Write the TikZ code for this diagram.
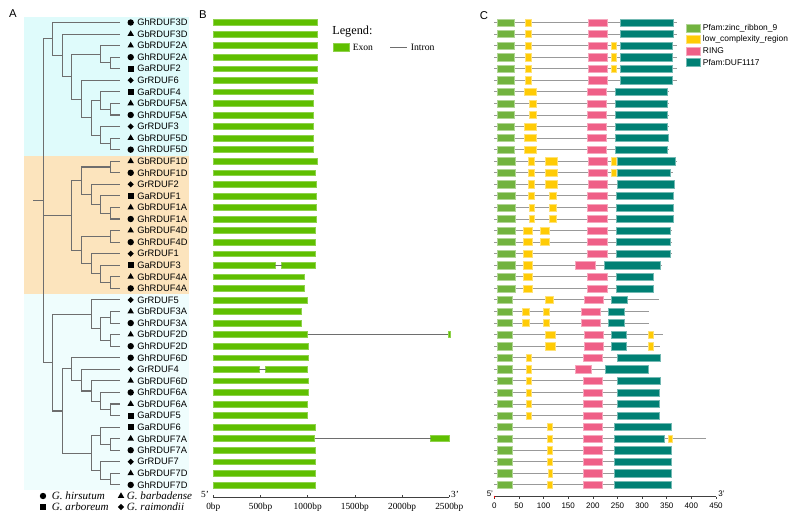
\documentclass[tikz,border=0pt]{standalone}
\usepackage{fontspec}
\setmainfont{Liberation Serif}
\setsansfont{Liberation Sans}
\usetikzlibrary{calc,shapes.geometric}
\definecolor{cladeA}{HTML}{DFFBFB}
\definecolor{cladeB}{HTML}{FCE4BD}
\definecolor{cladeC}{HTML}{EFFDFD}
\definecolor{twig}{HTML}{6E6E6E}
\definecolor{exongreen}{HTML}{5FBF00}
\definecolor{zinc}{HTML}{72B33F}
\definecolor{lcr}{HTML}{FFCB05}
\definecolor{ring}{HTML}{EF5F87}
\definecolor{duf}{HTML}{008074}
\tikzset{branch/.style={draw=twig,line width=0.8pt},leaf/.style={anchor=west,inner sep=0pt,font=\sffamily\fontsize{7}{8}\selectfont},panel/.style={inner sep=0pt,font=\sffamily\fontsize{8.5}{9}\selectfont},
sphir/.style={circle,fill=black,inner sep=0pt,minimum size=4.8pt},spbar/.style={regular polygon,regular polygon sides=3,fill=black,inner sep=0pt,minimum size=5.6pt},
sparb/.style={rectangle,fill=black,inner sep=0pt,minimum size=4.5pt},sprai/.style={diamond,fill=black,inner sep=0pt,minimum size=4.8pt},
species/.style={anchor=west,inner sep=0pt,font=\itshape\fontsize{8.3}{9}\selectfont},
exon/.style={fill=exongreen,draw=exongreen!70,line width=0.4pt},intron/.style={draw=twig,line width=0.6pt},
scaleline/.style={draw=black!75,line width=0.5pt},bptick/.style={inner sep=0pt,font=\fontsize{7}{8}\selectfont},aatick/.style={inner sep=0pt,font=\sffamily\fontsize{6}{7}\selectfont},
backbone/.style={draw=black!40,line width=0.7pt},dom/.style={line width=0.4pt},key/.style={anchor=west,inner sep=0pt,font=\sffamily\fontsize{6.3}{7}\selectfont}}
% clade: name, height, child, child
\newcommand\clade[4]{\path let \p1=($(#3)!0.5!(#4)$), \p2=({120-9.62*#2},0) in coordinate (#1) at (\x2,\y1);
\draw[branch] (#1) |- (#3) (#1) |- (#4);}
\begin{document}
\begin{tikzpicture}[x=0.75pt,y=-0.75pt,declare function={rowy(\n)=22.5+11.56*(\n-1);}]
\useasboundingbox (0,0) rectangle (792,521);
% A: tree
\fill[cladeA] (24,17) rectangle (189,155.5);
\fill[cladeB] (24,155.5) rectangle (189,294);
\fill[cladeC] (24,294) rectangle (189,490);
\node[panel] (pa) at (13,14) {A};
\node[panel] (pb) at (203,15) {B};
\node[panel] (pc) at (484,16) {C};
\foreach \gene/\sp [count=\i] in {GhRDUF3D/sphir,GbRDUF3D/spbar,GbRDUF2A/spbar,GhRDUF2A/sphir,GaRDUF2/sparb,GrRDUF6/sprai,GaRDUF4/sparb,GbRDUF5A/spbar,GhRDUF5A/sphir,GrRDUF3/sprai,GbRDUF5D/spbar,GhRDUF5D/sphir,GbRDUF1D/spbar,GhRDUF1D/sphir,GrRDUF2/sprai,GaRDUF1/sparb,GbRDUF1A/spbar,GhRDUF1A/sphir,GbRDUF4D/spbar,GhRDUF4D/sphir,GrRDUF1/sprai,GaRDUF3/sparb,GbRDUF4A/spbar,GhRDUF4A/sphir,GrRDUF5/sprai,GbRDUF3A/spbar,GhRDUF3A/sphir,GbRDUF2D/spbar,GhRDUF2D/sphir,GhRDUF6D/sphir,GrRDUF4/sprai,GbRDUF6D/spbar,GhRDUF6A/sphir,GbRDUF6A/spbar,GaRDUF5/sparb,GaRDUF6/sparb,GbRDUF7A/spbar,GhRDUF7A/sphir,GrRDUF7/sprai,GbRDUF7D/spbar,GhRDUF7D/sphir}{
\coordinate (t\i) at (120,{rowy(\i)});
\node[\sp] (s\i) at (130.7,{rowy(\i)}) {};
\node[leaf] (g\i) at (137,{rowy(\i)}) {\gene};}
\clade{a1}{1}{t4}{t5}\clade{a2}{2}{t3}{a1}\clade{a3}{1}{t8}{t9}\clade{a4}{2}{t7}{a3}
\clade{a5}{1}{t11}{t12}\clade{a6}{2}{t10}{a5}\clade{a7}{3}{a4}{a6}\clade{a8}{4}{t6}{a7}
\clade{a9}{5}{a2}{a8}\clade{a10}{6}{t2}{a9}\clade{a11}{7}{t1}{a10}
\clade{b1}{1}{t13}{t14}\clade{b2}{1}{t17}{t18}\clade{b3}{2}{t16}{b2}\clade{b4}{3}{t15}{b3}
\clade{b5}{4}{b1}{b4}\clade{b6}{1}{t19}{t20}\clade{b7}{1}{t23}{t24}\clade{b8}{2}{t22}{b7}
\clade{b9}{3}{t21}{b8}\clade{b10}{4}{b6}{b9}\clade{b11}{5}{b5}{b10}
\clade{d1}{1}{t26}{t27}\clade{d2}{1}{t28}{t29}\clade{d3}{2}{d1}{d2}\clade{d4}{3}{t25}{d3}
\clade{d5}{1}{t34}{t35}\clade{d6}{2}{t33}{d5}\clade{d7}{3}{t32}{d6}\clade{d8}{4}{t31}{d7}
\clade{d9}{5}{t30}{d8}\clade{d10}{1}{t37}{t38}\clade{d11}{2}{t36}{d10}\clade{d12}{1}{t40}{t41}
\clade{d13}{2}{t39}{d12}\clade{d14}{3}{d11}{d13}\clade{d15}{6}{d9}{d14}\clade{d16}{7}{d4}{d15}
\clade{root}{8}{a11}{d16}
\draw[branch] (root) |- (b11);
\path (root) ++(-9.62,0) coordinate (stem);
\draw[branch] (stem) -- (root);
% species key
\node[sphir] (kh) at (43,496) {};\node[species] (kht) at (51.7,496) {G. hirsutum};
\node[spbar] (kb) at (121,496) {};\node[species] (kbt) at (126.7,496) {G. barbadense};
\node[sparb] (ka) at (43,507) {};\node[species] (kat) at (51.7,507) {G. arboreum};
\node[sprai] (kr) at (121,507) {};\node[species] (krt) at (126.7,507) {G. raimondii};
% B: gene structure
\node[anchor=west,inner sep=0pt,font=\fontsize{9.2}{10}\selectfont] (lg) at (332,31.7) {Legend:};
\filldraw[exon] (333,43.5) rectangle (349,51);
\node[anchor=west,inner sep=0pt,font=\fontsize{7.2}{8}\selectfont] (lx) at (352.5,47.3) {Exon};
\coordinate (ia) at (390,47.3);\coordinate (ib) at (406.7,47.3);
\draw[intron] (ia) -- (ib);
\node[anchor=west,inner sep=0pt,font=\fontsize{7.3}{8}\selectfont] (li) at (410.5,47.3) {Intron};
\begin{scope}[xshift=159.98pt,x=0.0708pt]
\foreach \i/\len in {1/1100,2/1100,3/1100,4/1100,5/1100,6/1100,7/1060,8/1060,9/1060,10/1060,11/1060,12/1055,13/1100,14/1075,15/1095,16/1090,17/1090,18/1090,19/1075,20/1075,21/1075,23/960,24/960,25/990,26/935,27/935,29/1005,30/1005,32/1005,33/1003,34/1000,35/1000,36/1080,38/1080,39/1082,40/1082,41/1082}
\filldraw[exon] (0,{rowy(\i)-2.9}) rectangle (\len,{rowy(\i)+2.9});
\foreach \i/\a/\b/\c in {22/655/725/1085,28/1000/2490/2506,31/485/555/1000,37/1073/2303/2500}{
\filldraw[exon] (0,{rowy(\i)-2.9}) rectangle (\a,{rowy(\i)+2.9});
\filldraw[exon] (\b,{rowy(\i)-2.9}) rectangle (\c,{rowy(\i)+2.9});
\draw[intron] (\a,{rowy(\i)}) -- (\b,{rowy(\i)});}
\draw[scaleline] (0,497) -- (2500,497);
\foreach \t in {0,500,...,2500}{\draw[scaleline] (\t,497) -- (\t,495);\node[bptick] (bt\t) at (\t,507) {\t bp};}
\node[bptick] (b5) at (-88,494) {5'};
\node[bptick] (b3) at (2560,494) {3'};
\end{scope}
% C: domains
\begin{scope}[xshift=370.73pt,x=0.3695pt]
\foreach \i/\len/\doms in {1/370/{zinc/5/41,lcr/62/75,ring/190/230,duf/255/363},2/370/{zinc/5/41,lcr/62/75,ring/190/230,duf/255/363},
3/370/{zinc/5/41,lcr/62/75,ring/190/230,lcr/237/248,duf/255/361},4/370/{zinc/5/41,lcr/62/75,ring/190/230,lcr/237/248,duf/255/361},
5/370/{zinc/5/41,lcr/62/75,ring/190/230,lcr/237/248,duf/255/361},6/370/{zinc/5/41,lcr/62/75,ring/190/230,duf/255/361},
7/355/{zinc/5/41,lcr/60/86,ring/188/228,duf/245/351},8/355/{zinc/5/41,lcr/70/85,ring/188/228,duf/245/351},
9/355/{zinc/5/41,lcr/70/85,ring/188/228,duf/245/351},10/355/{zinc/5/41,lcr/60/86,ring/188/228,duf/245/351},
11/355/{zinc/5/41,lcr/60/86,ring/188/228,duf/245/353},12/355/{zinc/5/41,lcr/60/86,ring/188/228,duf/245/351},
13/370/{zinc/5/42,lcr/69/81,lcr/103/127,ring/191/230,lcr/237/248,duf/250/367},14/362/{zinc/5/42,lcr/69/81,lcr/103/127,ring/191/230,lcr/237/248,duf/250/357},
15/367/{zinc/5/42,lcr/69/81,lcr/103/127,ring/191/230,duf/250/366},16/365/{zinc/5/42,lcr/69/81,lcr/112/125,ring/189/229,duf/247/363},
17/365/{zinc/5/42,lcr/70/81,lcr/112/125,ring/189/229,duf/247/363},18/365/{zinc/5/42,lcr/70/81,lcr/112/125,ring/189/229,duf/247/363},
19/361/{zinc/5/42,lcr/59/77,lcr/94/112,ring/189/229,duf/247/358},20/361/{zinc/5/42,lcr/59/77,lcr/94/112,ring/189/229,duf/247/358},
21/361/{zinc/5/42,lcr/59/77,ring/189/229,duf/247/358},22/340/{zinc/5/42,lcr/59/77,ring/165/204,duf/223/337},
23/322/{zinc/5/42,lcr/59/77,ring/189/229,duf/247/322},24/322/{zinc/5/42,lcr/59/77,ring/189/229,duf/247/322},
25/334/{zinc/5/36,lcr/104/119,ring/182/222,duf/237/269},26/313/{zinc/5/36,lcr/56/70,lcr/99/112,ring/176/215,duf/231/263},
27/313/{zinc/5/36,lcr/56/70,lcr/99/112,ring/176/215,duf/231/263},28/342/{zinc/5/36,lcr/104/123,ring/182/222,duf/237/267,lcr/312/323},
29/336/{zinc/5/36,lcr/104/123,ring/182/222,duf/237/267,lcr/312/323},30/336/{zinc/5/36,lcr/64/74,ring/180/220,duf/249/336},
31/313/{zinc/5/36,lcr/64/74,ring/164/196,duf/225/313},32/336/{zinc/5/36,lcr/64/74,ring/180/220,duf/249/336},
33/336/{zinc/5/36,lcr/64/74,ring/180/220,duf/249/335},34/336/{zinc/5/36,lcr/64/74,ring/180/220,duf/249/335},
35/336/{zinc/5/36,lcr/64/74,ring/180/220,duf/249/335},36/361/{zinc/5/36,lcr/107/117,ring/180/220,duf/244/359},
37/429/{zinc/5/36,lcr/107/117,ring/180/220,duf/244/344,lcr/353/361},38/361/{zinc/5/36,lcr/107/117,ring/180/220,duf/244/360},
39/361/{zinc/5/36,lcr/107/117,ring/180/220,duf/244/360},40/361/{zinc/5/36,lcr/110/117,ring/180/220,duf/244/360},
41/361/{zinc/5/36,lcr/107/117,ring/180/220,duf/244/360}}{
\draw[backbone] (0,{rowy(\i)}) -- (\len,{rowy(\i)});
\foreach \t/\s/\e in \doms \filldraw[dom,fill=\t,draw=\t!55!white] (\s,{rowy(\i)-3.6}) rectangle (\e,{rowy(\i)+3.6});}
\draw[scaleline] (0,496.7) -- (450,496.7);
\foreach \t in {0,50,...,450}{\draw[scaleline] (\t,496.7) -- (\t,498.7);\node[aatick] (at\t) at (\t,506) {\t};}
\draw[red,line width=1pt] (0,495.7) -- (0,497.7);
\node[aatick] (c5) at (-9,493.5) {5'};
\node[aatick] (c3) at (461,493.5) {3'};
\end{scope}
% C: key
\foreach \c/\txt [count=\k] in {zinc/Pfam:zinc\_ribbon\_9,lcr/low\_complexity\_region,ring/RING,duf/Pfam:DUF1117}{
\filldraw[dom,fill=\c,draw=\c!55!white] (686,{16.5+11.5*\k-3.8}) rectangle (700,{16.5+11.5*\k+3.8});
\node[key] (k\k) at (702.7,{16.5+11.5*\k}) {\txt};}
\end{tikzpicture}
\end{document}
